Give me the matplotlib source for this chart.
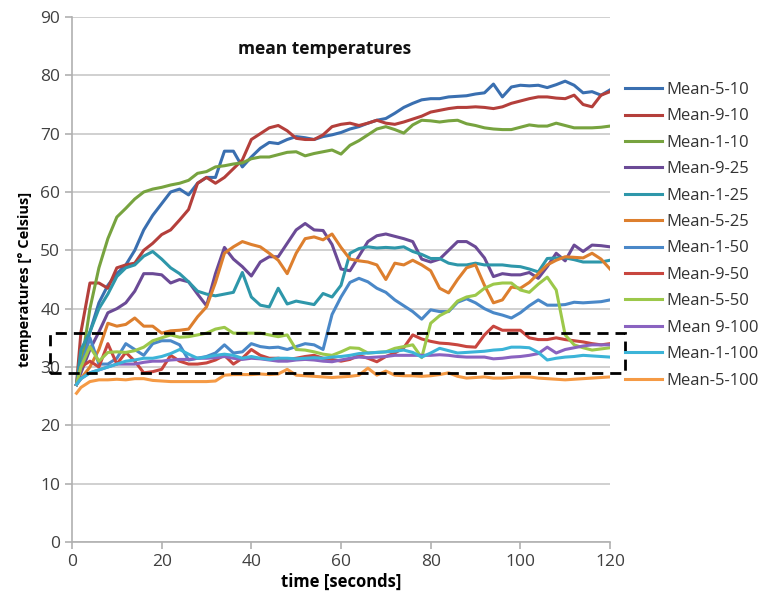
import matplotlib
matplotlib.use("Agg")
import matplotlib.pyplot as plt
from matplotlib.patches import Rectangle

plt.rcParams['font.family'] = ['Open Sans', 'DejaVu Sans']

time_s = [1] + list(range(2, 121, 2))

labels = ["Mean-5-10", "Mean-9-10", "Mean-1-10", "Mean-9-25", "Mean-1-25", "Mean-5-25",
          "Mean-1-50", "Mean-9-50", "Mean-5-50", "Mean 9-100", "Mean-1-100", "Mean-5-100"]

mean_5_10 = [27, 30, 36, 41, 44, 46, 47.5, 50, 53.5, 56, 58, 60, 60.5, 59.5, 61.5, 62.5, 62.5, 67, 67, 64.3,
             66, 67.5, 68.5, 68.3, 69, 69.5, 69.3, 69, 69.5, 69.8, 70.2, 70.8, 71.2, 71.8, 72.3, 72.6, 73.5, 74.5, 75.2, 75.8,
             76, 76, 76.3, 76.4, 76.5, 76.8, 77, 78.5, 76.3, 78, 78.3, 78.2, 78.3, 77.9, 78.4, 79, 78.3, 77, 77.2, 76.6, 77.5]
mean_9_10 = [27, 36, 44.4, 44.4, 43.5, 47, 47.5, 47.8, 50, 51.2, 52.7, 53.5, 55.2, 57, 61.5, 62.5, 61.5, 62.5, 64, 65.5,
             69, 70, 71, 71.4, 70.5, 69.2, 69, 69, 69.8, 71.2, 71.6, 71.8, 71.4, 71.8, 72.3, 71.8, 71.6, 72, 72.5, 73,
             73.7, 74, 74.3, 74.5, 74.5, 74.6, 74.5, 74.3, 74.6, 75.2, 75.6, 76, 76.3, 76.3, 76.1, 76, 76.6, 75, 74.6, 76.6, 77.2]
mean_1_10 = [27, 30, 40, 47, 52, 55.7, 57.2, 58.8, 60, 60.5, 60.8, 61.2, 61.5, 62, 63.2, 63.5, 64.3, 64.5, 64.8, 65,
             65.7, 66, 66, 66.4, 66.8, 66.9, 66.2, 66.6, 66.9, 67.2, 66.5, 68, 68.8, 69.8, 70.8, 71.2, 70.7, 70.1, 71.5, 72.3,
             72.2, 72, 72.2, 72.3, 71.7, 71.4, 71, 70.8, 70.7, 70.7, 71.1, 71.5, 71.3, 71.3, 71.8, 71.4, 71, 71, 71, 71.1, 71.3]
mean_9_25 = [27, 29, 33, 36, 39.3, 40, 41, 43, 46, 46, 45.8, 44.4, 45, 44.6, 42.5, 40.5, 46, 50.5, 48.5, 47.2,
             45.6, 48, 48.9, 48.9, 51.2, 53.5, 54.6, 53.5, 53.4, 51, 46.8, 46.5, 49, 51.5, 52.5, 52.8, 52.4, 52, 51.5, 48.5,
             48, 48.5, 50, 51.5, 51.5, 50.6, 48.7, 45.5, 46, 45.8, 45.8, 46.2, 45.2, 47.2, 49.5, 48.2, 50.9, 49.8, 50.9, 50.8, 50.6]
mean_1_25 = [27, 33, 36, 40, 42.5, 45.5, 47, 47.5, 49, 49.8, 48.5, 47, 46, 44.6, 43, 42.5, 42.2, 42.5, 42.8, 46.2,
             42, 40.6, 40.3, 43.5, 40.8, 41.3, 41, 40.7, 42.6, 42, 44, 49.5, 50.3, 50.6, 50.4, 50.5, 50.4, 50.6, 49.8, 49.3,
             48.6, 48.6, 47.8, 47.5, 47.5, 47.8, 47.5, 47.5, 47.5, 47.3, 47.2, 46.8, 46.3, 48.6, 48.7, 48.7, 48.4, 48, 48, 48, 48.3]
mean_5_25 = [27, 28, 30, 33, 37.5, 37, 37.3, 38.4, 37, 37, 35.8, 36.2, 36.3, 36.5, 38.6, 40.3, 44.5, 49.5, 50.6, 51.5,
             51, 50.6, 49.5, 48.3, 46, 49.5, 52, 52.3, 51.8, 52.8, 50.5, 48.5, 48.2, 48, 47.5, 45, 47.8, 47.5, 48.3, 47.5,
             46.5, 43.5, 42.7, 45, 47, 47.5, 44, 41, 41.5, 43.7, 43.5, 44.5, 46, 47.5, 48.3, 48.9, 48.8, 48.7, 49.5, 48.5, 46.8]
mean_1_50 = [27, 30, 35, 30.5, 30.5, 31.5, 34, 33, 32, 34, 34.5, 34.5, 33.8, 31.2, 31.5, 31.8, 32.4, 33.8, 32.4, 32.6,
             34, 33.5, 33.3, 33.4, 33, 33.5, 34, 33.8, 33, 39, 42, 44.5, 45.2, 44.6, 43.5, 42.8, 41.5, 40.5, 39.5, 38.2,
             39.8, 39.5, 39.5, 41.1, 41.7, 41, 40, 39.3, 38.9, 38.4, 39.3, 40.5, 41.5, 40.6, 40.6, 40.7, 41.1, 41, 41.1, 41.2, 41.5]
mean_9_50 = [27, 30, 31, 30, 34, 30.5, 32.5, 31, 29, 29.2, 29.6, 32, 31, 30.5, 30.5, 30.7, 31.2, 32, 30.5, 31.5,
             33, 32, 31.5, 31.5, 31.3, 31.5, 31.8, 32, 31.5, 31.3, 31, 31.3, 32, 31.5, 30.9, 31.8, 32.4, 33.3, 35.5, 34.8,
             34.4, 34.1, 34, 33.8, 33.5, 33.4, 35.5, 37, 36.3, 36.3, 36.3, 35, 34.7, 34.7, 35, 34.7, 34.5, 34.3, 34, 33.8, 34]
mean_5_50 = [27, 30, 33.5, 31, 32.5, 32.6, 32.5, 32.8, 33.4, 34.5, 35, 35.5, 35.1, 35.2, 35.5, 35.8, 36.5, 36.8, 35.8, 35.8,
             35.8, 35.8, 35.5, 35.2, 35.5, 33, 32.9, 32.6, 32.2, 32, 32.6, 33.3, 33.2, 32.4, 32.5, 32.6, 33.2, 33.5, 33.8, 31.6,
             37.5, 38.8, 39.6, 41.3, 42, 42.3, 43.5, 44.2, 44.4, 44.4, 43.2, 42.8, 44.2, 45.4, 43.2, 35.5, 33.8, 33.3, 32.9, 33.1, 33.3]
mean_9_100 = [27, 28, 29, 29.5, 30, 30.5, 30.5, 30.5, 30.8, 31, 31, 31.2, 31.3, 31.3, 31.5, 31.5, 31.6, 31.8, 31.5, 31.3,
              31.5, 31.4, 31.2, 31, 31, 31.2, 31.3, 31.2, 31, 30.9, 31.2, 31.5, 31.7, 31.6, 31.7, 31.8, 32, 32, 32, 32,
              32, 32.1, 32, 31.8, 31.7, 31.7, 31.7, 31.4, 31.5, 31.7, 31.8, 32, 32.3, 33.4, 32.4, 33, 33.3, 33.6, 33.8, 33.8, 33.8]
mean_1_100 = [27, 28, 29, 29.5, 30, 30.5, 31, 31.2, 31.5, 31.5, 31.8, 32.3, 33, 32.2, 31.5, 31.7, 32, 32.2, 32, 31.5,
              31.8, 31.5, 31.3, 31.5, 31.5, 31.4, 31.5, 31.6, 31.5, 31.7, 31.8, 32, 32.3, 32.4, 32.5, 32.6, 32.7, 32.9, 32.5, 31.7,
              32.4, 33.2, 32.8, 32.4, 32.5, 32.6, 32.7, 32.9, 33, 33.4, 33.4, 33.3, 32.5, 31.2, 31.5, 31.7, 31.8, 32, 31.9, 31.8, 31.7]
mean_5_100 = [25.5, 26.5, 27.5, 27.8, 27.8, 27.9, 27.8, 28, 28, 27.7, 27.6, 27.5, 27.5, 27.5, 27.5, 27.5, 27.6, 28.6, 28.7, 28.7,
              28.7, 28.8, 28.7, 28.8, 29.6, 28.6, 28.5, 28.4, 28.3, 28.2, 28.3, 28.4, 28.6, 29.8, 28.6, 29.3, 28.6, 28.5, 28.5, 28.4,
              28.5, 28.7, 29, 28.4, 28.1, 28.2, 28.3, 28.1, 28.1, 28.2, 28.3, 28.3, 28.1, 28, 27.9, 27.8, 27.9, 28, 28.1, 28.2, 28.3]

series = [mean_5_10, mean_9_10, mean_1_10, mean_9_25, mean_1_25, mean_5_25,
          mean_1_50, mean_9_50, mean_5_50, mean_9_100, mean_1_100, mean_5_100]
colors = ["#3a6fb0", "#b43f3b", "#77a33f", "#6b4a96", "#2e97aa", "#dd7f2e",
          "#4a88c8", "#c8463f", "#9cc84a", "#8a63c0", "#3cb4d8", "#f59a45"]

# highlighted band (dashed box)
box_x = [-4.9, 123.4]
box_y = [29.0, 35.8]

W, H = 764, 593
fig = plt.figure(figsize=(W / 100, H / 100), dpi=100)
ax = fig.add_axes([72 / W, 1 - 542 / H, (610 - 72) / W, (542 - 17) / H])

for y, c, lab in zip(series, colors, labels):
    ax.plot(time_s, y, color=c, lw=2.2, label=lab, solid_joinstyle='round')

ax.set_xlim(0, 120)
ax.set_ylim(0, 90)
ax.set_xticks(range(0, 121, 20))
ax.set_yticks(range(0, 91, 10))
ax.yaxis.grid(True, color="#c8c8c8", lw=1.2)
ax.set_axisbelow(True)
for s in ["top", "right"]:
    ax.spines[s].set_visible(False)
for s in ["left", "bottom"]:
    ax.spines[s].set_color("#b0b0b0")
    ax.spines[s].set_linewidth(1.2)
ax.tick_params(axis="both", colors="#b0b0b0", labelcolor="#404040", labelsize=12.5, length=5, width=1.2)

ax.set_xlabel("time [seconds]", fontsize=12, fontweight="bold", labelpad=2)
ax.set_ylabel("temperatures [° Celsius]", fontsize=10.5, fontweight="bold", labelpad=6)

ax.text(0.47, 0.94, "mean temperatures", transform=ax.transAxes, ha="center", va="center",
        fontsize=12.5, fontweight="bold", color="#111111")

rect = Rectangle((box_x[0], box_y[0]), box_x[1] - box_x[0], box_y[1] - box_y[0],
                 fill=False, ls=(0, (4, 2.5)), lw=2, ec="black", clip_on=False, zorder=5)
ax.add_patch(rect)

leg = ax.legend(loc="upper left", bbox_to_anchor=(1.028, 1 - (88 - 17 - 6) / 525),
                frameon=False, fontsize=12, handlelength=2.2, handletextpad=0.3,
                labelspacing=0.625, borderaxespad=0, borderpad=0)
for t in leg.get_texts():
    t.set_color("#333333")

fig.savefig("out.png", dpi=100, facecolor="white")
